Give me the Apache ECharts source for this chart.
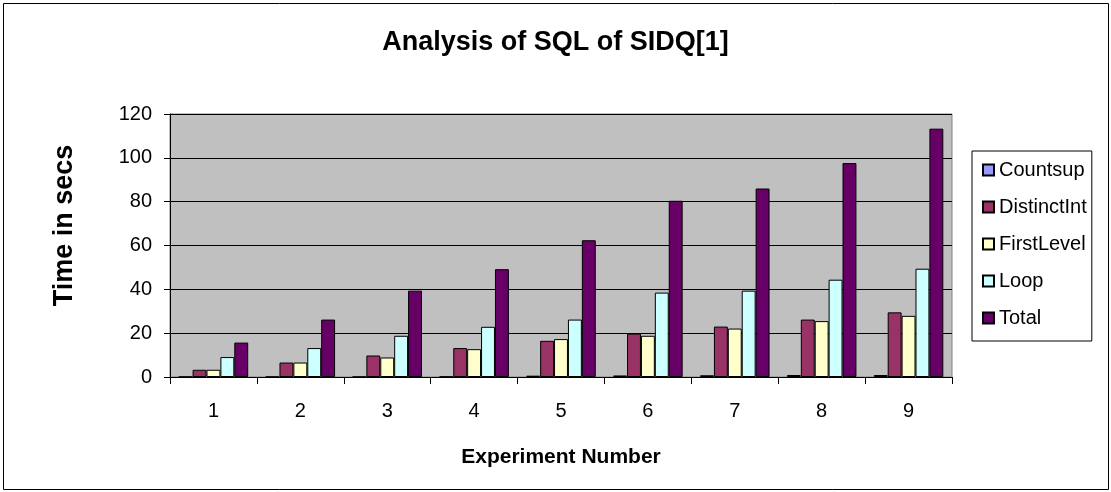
<!DOCTYPE html>
<html>
<head>
<meta charset="utf-8">
<script src="https://cdn.jsdelivr.net/npm/echarts@6/dist/echarts.min.js"></script>
<style>
  html, body { margin: 0; padding: 0; background: #fff; }
</style>
</head>
<body>
<div id="main" style="width: 1111px;height:492px;"></div>
<script>
const experiments = ['1', '2', '3', '4', '5', '6', '7', '8', '9'];
const countsup = [0.1, 0.1, 0.1, 0.2, 0.6, 0.7, 0.8, 0.9, 0.9];
const distinctInt = [3.3, 6.6, 9.8, 13.2, 16.5, 19.8, 23.0, 26.2, 29.5];
const firstLevel = [3.3, 6.6, 8.9, 12.7, 17.3, 18.8, 22.1, 25.5, 27.9];
const loop = [9.1, 13.2, 18.8, 22.9, 26.2, 38.5, 39.4, 44.4, 49.4];
const total = [15.7, 26.2, 39.4, 49.2, 62.4, 80.4, 86.0, 97.6, 113.3];

const font = 'Liberation Sans, Arial, sans-serif';
var myChart = echarts.init(document.getElementById('main'));

function bar(name, data, color) {
  return {
    name: name,
    type: 'bar',
    data: data,
    barGap: '0%',
    barCategoryGap: '20%',
    itemStyle: { color: color, borderColor: '#000', borderWidth: 1 },
    emphasis: { disabled: true }
  };
}

var option = {
  animation: false,
  textStyle: { fontFamily: font },
  title: {
    text: 'Analysis of SQL of SIDQ[1]',
    left: 'center',
    top: 24,
    textStyle: { fontSize: 27, fontWeight: 'bold', color: '#000', fontFamily: font }
  },
  graphic: [{
    type: 'rect',
    shape: { x: 3.5, y: 3.5, width: 1105, height: 486 },
    style: { fill: 'none', stroke: '#000', lineWidth: 1 },
    silent: true
  }],
  legend: {
    orient: 'vertical',
    left: 972,
    top: 151,
    padding: [9, 5, 13, 10],
    itemWidth: 11,
    itemHeight: 11,
    itemGap: 17,
    icon: 'rect',
    borderColor: '#000',
    borderWidth: 1,
    textStyle: { fontSize: 20, color: '#000', fontFamily: font },
    data: ['Countsup', 'DistinctInt', 'FirstLevel', 'Loop', 'Total']
  },
  grid: {
    left: 170,
    top: 114,
    right: 159,
    bottom: 115,
    show: true,
    backgroundColor: '#C0C0C0',
    borderColor: '#808080',
    borderWidth: 1
  },
  xAxis: {
    type: 'category',
    data: experiments,
    name: 'Experiment Number',
    nameLocation: 'middle',
    nameGap: 70,
    nameTextStyle: { fontSize: 21, fontWeight: 'bold', color: '#000' },
    axisLine: { lineStyle: { color: '#000' } },
    axisTick: { show: true, length: 7, lineStyle: { color: '#000' } },
    axisLabel: { fontSize: 20, color: '#000', margin: 24 }
  },
  yAxis: {
    type: 'value',
    min: 0,
    max: 120,
    interval: 20,
    name: 'Time in secs',
    nameLocation: 'middle',
    nameGap: 92,
    nameTextStyle: { fontSize: 27, fontWeight: 'bold', color: '#000', padding: [0, 0, 0, 40] },
    axisLine: { show: true, lineStyle: { color: '#000' } },
    axisTick: { show: true, length: 6, lineStyle: { color: '#000' } },
    axisLabel: { fontSize: 20, color: '#000', margin: 18 },
    splitLine: { show: true, lineStyle: { color: '#000', width: 1 } }
  },
  series: [
    bar('Countsup', countsup, '#9999FF'),
    bar('DistinctInt', distinctInt, '#993366'),
    bar('FirstLevel', firstLevel, '#FFFFCC'),
    bar('Loop', loop, '#CCFFFF'),
    bar('Total', total, '#660066')
  ]
};
myChart.setOption(option);
</script>
</body>
</html>
